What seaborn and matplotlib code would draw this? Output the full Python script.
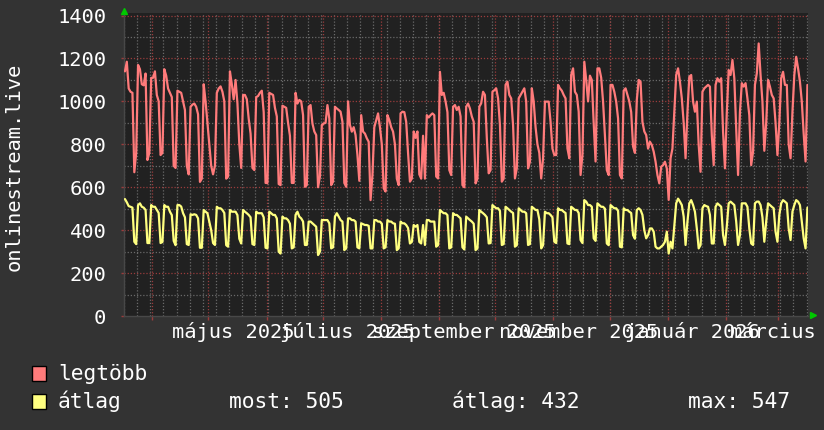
import numpy as np
import pandas as pd
import matplotlib
matplotlib.use("Agg")
import matplotlib.pyplot as plt
import matplotlib.dates as mdates
from matplotlib.ticker import NullFormatter, FixedLocator
from matplotlib.patches import Rectangle
import seaborn as sns

# ---------------- data (one value per day, week rows Mon..Sun) ----------------
START = "2025-03-17"

LEGTOBB = [
    1140, 1185, 1060, 1045, 1040, 670, 760,
    1170, 1150, 1080, 1075, 1130, 727, 760,
    1110, 1110, 1140, 1030, 1000, 750, 760,
    1150, 1120, 1060, 1040, 1020, 700, 690,
    1050, 1045, 1040, 1000, 960, 700, 660,
    975, 985, 990, 975, 940, 625, 640,
    1080, 1000, 900, 800, 700, 660, 700,
    1040, 1060, 1070, 1045, 1000, 640, 650,
    1140, 1080, 1010, 1100, 990, 800, 690,
    1030, 1030, 1010, 920, 850, 690, 680,
    1020, 1025, 1040, 1050, 950, 620, 620,
    1040, 1035, 1030, 970, 930, 615, 610,
    980, 975, 970, 900, 840, 620, 620,
    1040, 990, 1007, 1000, 936, 602, 610,
    975, 983, 897, 860, 843, 600, 650,
    890, 897, 900, 983, 920, 610, 626,
    975, 967, 960, 952, 905, 620, 602,
    1000, 890, 859, 880, 843, 750, 630,
    936, 859, 850, 828, 812, 540, 657,
    880, 913, 944, 880, 800, 595, 580,
    936, 913, 880, 859, 800, 640, 610,
    944, 952, 950, 905, 760, 626, 640,
    860, 830, 860, 660, 640, 840, 640,
    936, 925, 936, 944, 936, 650, 641,
    1138, 1030, 1040, 1000, 950, 680, 657,
    975, 983, 960, 975, 930, 610, 600,
    975, 990, 967, 930, 905, 618, 640,
    975, 991, 1045, 1030, 830, 665, 680,
    1045, 1052, 1061, 1014, 890, 626, 640,
    1077, 1092, 1030, 1014, 890, 641, 688,
    1014, 1030, 1045, 1061, 999, 688, 719,
    1061, 1000, 880, 800, 760, 641, 735,
    999, 999, 999, 905, 780, 750, 750,
    1077, 1061, 1050, 1030, 1014, 781, 735,
    1123, 1154, 1045, 1030, 952, 657, 750,
    1185, 1100, 1000, 1120, 1100, 900, 720,
    1154, 1154, 1110, 999, 843, 680, 657,
    1077, 1077, 1045, 999, 921, 657, 641,
    1050, 1061, 1030, 1000, 950, 790, 760,
    1007, 1100, 1092, 905, 860, 843, 780,
    812, 797, 766, 719, 657, 618, 696,
    703, 719, 688, 541, 735, 780, 950,
    1123, 1154, 1092, 1014, 900, 735, 950,
    1115, 1123, 999, 952, 999, 797, 672,
    1045, 1061, 1069, 1077, 1069, 843, 703,
    1077, 1108, 1092, 1108, 859, 688, 950,
    1146, 1123, 1193, 1108, 874, 657, 950,
    1085, 1069, 1085, 1014, 936, 703, 766,
    1077, 1131, 1270, 1123, 999, 770, 900,
    1100, 1069, 1030, 1014, 900, 750, 900,
    1108, 1138, 1077, 1077, 800, 735, 950,
    1123, 1208, 1154, 1092, 999, 850, 720,
    1077,
]

ATLAG = [
    545, 530, 512, 509, 505, 346, 335,
    517, 525, 509, 505, 494, 340, 340,
    517, 509, 509, 494, 480, 340, 345,
    517, 509, 509, 486, 470, 350, 330,
    517, 517, 510, 479, 460, 335, 331,
    474, 471, 474, 471, 455, 318, 318,
    494, 486, 479, 440, 400, 340, 331,
    509, 502, 502, 494, 480, 330, 323,
    494, 486, 486, 486, 470, 360, 338,
    494, 486, 479, 471, 460, 335, 331,
    486, 479, 479, 479, 460, 318, 315,
    486, 479, 471, 471, 455, 300, 291,
    463, 455, 455, 447, 430, 315, 320,
    471, 486, 463, 455, 440, 331, 331,
    440, 440, 432, 424, 416, 284, 300,
    447, 447, 447, 447, 432, 315, 320,
    463, 479, 463, 447, 440, 307, 315,
    455, 455, 447, 447, 440, 320, 315,
    432, 428, 424, 424, 420, 315, 315,
    447, 447, 440, 440, 430, 315, 320,
    447, 440, 440, 432, 430, 307, 315,
    440, 432, 432, 424, 410, 338, 345,
    424, 416, 424, 345, 338, 424, 331,
    447, 447, 440, 440, 440, 323, 330,
    494, 486, 479, 479, 470, 315, 320,
    479, 471, 471, 463, 455, 320, 310,
    463, 455, 447, 440, 430, 307, 315,
    494, 486, 479, 471, 460, 338, 340,
    517, 509, 502, 502, 490, 331, 335,
    509, 502, 494, 486, 480, 323, 330,
    502, 494, 486, 486, 479, 331, 335,
    509, 502, 494, 494, 450, 315, 330,
    486, 479, 479, 471, 460, 346, 340,
    502, 494, 494, 486, 480, 338, 335,
    509, 502, 494, 494, 480, 354, 340,
    540, 533, 517, 517, 509, 362, 350,
    525, 517, 509, 509, 500, 338, 330,
    517, 509, 502, 502, 490, 323, 320,
    502, 494, 494, 486, 480, 377, 360,
    494, 502, 494, 471, 400, 362, 377,
    408, 408, 393, 323, 315, 315, 323,
    331, 346, 393, 291, 346, 315, 420,
    525, 547, 533, 517, 463, 331, 440,
    525, 540, 517, 486, 408, 315, 331,
    502, 517, 512, 509, 471, 338, 338,
    509, 525, 517, 509, 377, 331, 420,
    525, 533, 525, 517, 440, 331, 377,
    525, 525, 525, 509, 408, 338, 331,
    525, 533, 533, 517, 460, 346, 440,
    525, 517, 509, 502, 393, 346, 471,
    525, 540, 533, 525, 408, 354, 486,
    517, 540, 533, 517, 440, 362, 315,
    505,
]

SERIES = ["legtöbb", "átlag"]
Y_TICKS = [0, 200, 400, 600, 800, 1000, 1200, 1400]
X_LABEL_MONTHS = ["2025-05-01", "2025-07-01", "2025-09-01",
                  "2025-11-01", "2026-01-01", "2026-03-01"]
X_LABELS = ["május 2025", "július 2025", "szeptember 2025",
            "november 2025", "január 2026", "március 2026"]
Y_TITLE = "onlinestream.live"
STATS = ["most: 505", "átlag: 432", "max: 547"]

# ---------------- style ----------------
BACK = "#333333"
CANVAS = "#212121"
RED_C = "#ff7b7b"
YEL_C = "#ffff80"
MINOR_C = "#6a6a6a"
MAJOR_C = "#9a3c3c"
ARROW_C = "#00c800"
FONT = ["DejaVu Sans Mono", "DejaVu Sans"]

sns.set_style("dark")
plt.rcParams["font.family"] = FONT

W, H = 824, 430
fig = plt.figure(figsize=(W / 100, H / 100), dpi=100, facecolor=BACK)


def fx(x):
    return x / W


def fy(y):
    return 1 - y / H


ax = fig.add_axes([fx(124), fy(316), fx(808 - 124), (316 - 13) / H])
ax.set_facecolor(CANVAS)

start = pd.Timestamp(START)
end = start + pd.Timedelta(days=364.8)
YMAX = 1412

# grid lines (weekly / monthly verticals, 100 / 200 horizontals)
minor_x = mdates.WeekdayLocator(byweekday=mdates.MO).tick_values(start, end)
major_x = mdates.MonthLocator().tick_values(start, end)
dots = (0, (1.0, 1.5))
ax.vlines(minor_x, 0, YMAX, colors=MINOR_C, linestyles=dots, linewidth=0.9, zorder=1)
ax.hlines(np.arange(100, 1400, 200), mdates.date2num(start), mdates.date2num(end),
          colors=MINOR_C, linestyles=dots, linewidth=0.9, zorder=1)
ax.vlines(major_x, 0, YMAX, colors=MAJOR_C, linestyles=dots, linewidth=0.9, zorder=1.5)
ax.hlines(Y_TICKS[1:], mdates.date2num(start), mdates.date2num(end),
          colors=MAJOR_C, linestyles=dots, linewidth=0.9, zorder=1.5)

dates = pd.date_range(START, periods=len(LEGTOBB), freq="D") + pd.Timedelta(hours=12)
df = pd.DataFrame({
    "date": np.concatenate([dates.values, dates.values]),
    "value": LEGTOBB + ATLAG,
    "series": [SERIES[0]] * len(LEGTOBB) + [SERIES[1]] * len(ATLAG),
})
sns.lineplot(data=df, x="date", y="value", hue="series",
             palette={SERIES[0]: RED_C, SERIES[1]: YEL_C},
             estimator=None, sort=False, linewidth=1.6, legend=False, ax=ax,
             zorder=3)

ax.set_xlim(start, end)
ax.set_ylim(0, YMAX)
ax.grid(False)

ax.xaxis.set_major_locator(mdates.MonthLocator())
ax.xaxis.set_major_formatter(NullFormatter())
ax.yaxis.set_major_locator(FixedLocator(Y_TICKS))
ax.tick_params(axis="x", which="major", bottom=True, length=3, width=1,
               color=MAJOR_C, direction="out")
ax.tick_params(axis="y", which="major", left=True, length=2, width=1, color=MAJOR_C,
               labelsize=14.7, labelcolor="white", pad=10.8)
ax.set_yticklabels([str(v) for v in Y_TICKS])
ax.set_xlabel("")
ax.set_ylabel("")
for s in ["top", "right"]:
    ax.spines[s].set_visible(False)
for s in ["left", "bottom"]:
    ax.spines[s].set_color("#484848")
    ax.spines[s].set_linewidth(1)

# month labels (centered ~13 days after month start)
trans = ax.get_xaxis_transform()
for m, lab in zip(X_LABEL_MONTHS, X_LABELS):
    xpos = pd.Timestamp(m) + pd.Timedelta(days=13.2)
    ax.text(mdates.date2num(xpos), -22 / 303, lab, transform=trans,
            ha="center", va="baseline", fontsize=14.7, color="white",
            clip_on=False)

# y title
fig.text(fx(14), fy(167), Y_TITLE, rotation=90, ha="center", va="center",
         fontsize=14.7, color="white")

# arrows
fig.add_artist(plt.Line2D([fx(124.5)], [fy(10.5)], marker="^", markersize=4.5,
                          color=ARROW_C, linestyle="none", transform=fig.transFigure))
fig.add_artist(plt.Line2D([fx(813)], [fy(315)], marker=">", markersize=4.5,
                          color=ARROW_C, linestyle="none", transform=fig.transFigure))

# legend
for (ytop, col) in [(366, RED_C), (394, YEL_C)]:
    fig.add_artist(Rectangle((fx(32), fy(ytop + 15)), 14 / W, 15 / H,
                             transform=fig.transFigure, facecolor=col,
                             edgecolor="black", linewidth=1))
fig.text(fx(58), fy(380), SERIES[0], ha="left", va="baseline",
         fontsize=15.3, color="white")
fig.text(fx(58), fy(408), SERIES[1], ha="left", va="baseline",
         fontsize=15.3, color="white")
for xs, txt in zip([229, 452, 688], STATS):
    fig.text(fx(xs), fy(408), txt, ha="left", va="baseline",
             fontsize=15.3, color="white")

fig.savefig("out.png", dpi=100, facecolor=BACK)
